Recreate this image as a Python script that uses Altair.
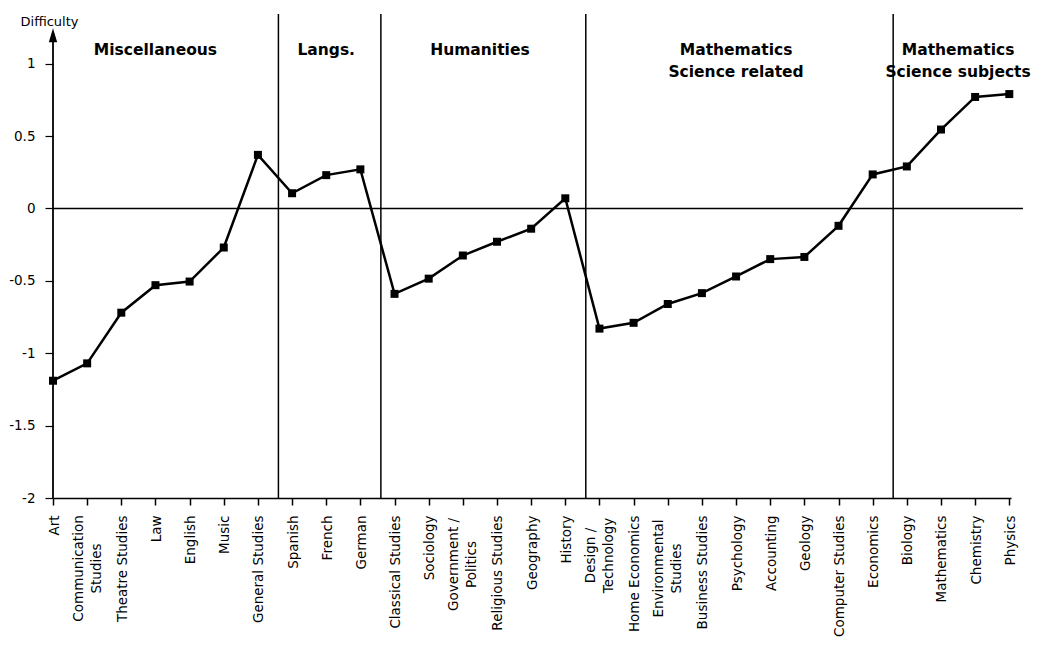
import json
import altair as alt
import pandas as pd

subjects = ["Art", "Communication\nStudies", "Theatre Studies", "Law", "English", "Music",
            "General Studies", "Spanish", "French", "German", "Classical Studies", "Sociology",
            "Government /\nPolitics", "Religious Studies", "Geography", "History",
            "Design /\nTechnology", "Home Economics", "Environmental\nStudies", "Business Studies",
            "Psychology", "Accounting", "Geology", "Computer Studies", "Economics", "Biology",
            "Mathematics", "Chemistry", "Physics"]
difficulty = [-1.19, -1.07, -0.72, -0.53, -0.505, -0.27, 0.37, 0.105, 0.23, 0.27, -0.59, -0.485,
              -0.325, -0.23, -0.14, 0.07, -0.83, -0.79, -0.66, -0.585, -0.47, -0.35, -0.335,
              -0.12, 0.235, 0.29, 0.545, 0.77, 0.79]
group_names = ["Miscellaneous", "Langs.", "Humanities", "Mathematics\nScience related",
               "Mathematics\nScience subjects"]
group_sizes = [7, 3, 6, 9, 4]
y_ticks = [-2, -1.5, -1, -0.5, 0, 0.5, 1]

FONT = "DejaVu Sans"
XFS = 13.5
n = len(subjects)
df = pd.DataFrame({"i": list(range(n)), "name": subjects, "v": difficulty})

ends, centers = [], []
s = 0
for g in group_sizes:
    ends.append(s + g - 1)
    centers.append((2 * s + g - 1) / 2)
    s += g
groups = pd.DataFrame({"label": group_names, "c": centers})
seps = pd.DataFrame({"b": [e + 0.6 for e in ends[:-1]]})

names_js = json.dumps([t.replace("\n", "|") for t in subjects])

# multi-line labels: centre the lines on each other and the block on its tick
BASE_PAD = 10
pad_conds = []
multi = []
for k, t in enumerate(subjects):
    if "\n" in t:
        multi.append(k)
        longest = max(len(p) for p in t.split("\n"))
        pad_conds.append({"test": f"datum.value === {k}",
                          "value": BASE_PAD + round(longest * 0.6 * XFS / 2)})
multi_js = json.dumps(multi)
is_multi = f"indexof({multi_js}, datum.value) >= 0"

x_scale = alt.Scale(domain=[0, n - 1 + 0.05], nice=False, zero=False)
y_scale = alt.Scale(domain=[-2, 1.343], nice=False, zero=False)

x_axis = alt.Axis(values=list(range(n)), labelExpr=f"split({names_js}[datum.value], '|')",
                  labelAngle=-90,
                  labelAlign={"condition": {"test": is_multi, "value": "center"}, "value": "right"},
                  labelBaseline="middle",
                  labelOffset={"condition": {"test": is_multi, "value": -9}, "value": 1},
                  labelPadding={"condition": pad_conds, "value": BASE_PAD},
                  labelFont=FONT, labelFontSize=XFS, labelColor="black", labelLineHeight=18,
                  tickSize=7, tickColor="black", tickWidth=1.5,
                  domainColor="black", domainWidth=1.5, grid=False, title=None,
                  labelOverlap=False, labelBound=False, labelFlush=False)
y_axis = alt.Axis(values=y_ticks, labelExpr="toString(datum.value)", labelFont=FONT,
                  labelFontSize=13.5, labelColor="black", labelPadding=10, tickSize=8,
                  tickColor="black", tickWidth=1.2, domain=False, grid=False,
                  title="Difficulty", titleAngle=0, titleX=-4, titleY=7, titleAlign="center",
                  titleBaseline="middle", titleFont=FONT, titleFontSize=13,
                  titleFontWeight="normal", titleColor="black",
                  minExtent=44, maxExtent=44, labelFlush=False)


def X(field):
    return alt.X(field, scale=x_scale, axis=x_axis)


def Y(field):
    return alt.Y(field, scale=y_scale, axis=y_axis)


base = alt.Chart(df)

line = base.mark_line(color="black", strokeWidth=2.5).encode(x=X("i:Q"), y=Y("v:Q"))
pts = base.mark_point(shape="square", filled=True, color="black", size=64, opacity=1).encode(
    x=X("i:Q"), y=Y("v:Q"))

zero = alt.Chart(pd.DataFrame({"x0": [0], "x1": [n - 1 + 0.4], "y": [0]})).mark_rule(
    color="black", strokeWidth=1.5).encode(x=X("x0:Q"), x2="x1:Q", y=Y("y:Q"))

yaxis_line = alt.Chart(pd.DataFrame({"x": [0], "y0": [-2], "y1": [1.15]})).mark_rule(
    color="black", strokeWidth=1.8).encode(x=X("x:Q"), y=Y("y0:Q"), y2="y1:Q")
arrow = alt.Chart(pd.DataFrame({"x": [0], "y": [1.196]})).mark_point(
    shape="M0,-1L0.6,1L-0.6,1Z", filled=True, color="black", size=196, opacity=1).encode(
    x=X("x:Q"), y=Y("y:Q"))

sep = alt.Chart(seps).mark_rule(color="black", strokeWidth=1.5).encode(x=X("b:Q"))

glabels = alt.Chart(groups).mark_text(font=FONT, fontSize=15.5, fontWeight="bold", color="black",
                                      lineBreak="\n", lineHeight=22, baseline="bottom",
                                      align="center").encode(
    x=X("c:Q"), y=alt.value(44), text="label:N")

chart = alt.layer(sep, zero, yaxis_line, arrow, line, pts, glabels).properties(
    width=958, height=484, background="white",
    padding={"left": 0, "top": 5, "right": 5, "bottom": 5}
).configure_view(stroke=None)

chart.save("out.html", embed_options={"renderer": "svg", "actions": False})
